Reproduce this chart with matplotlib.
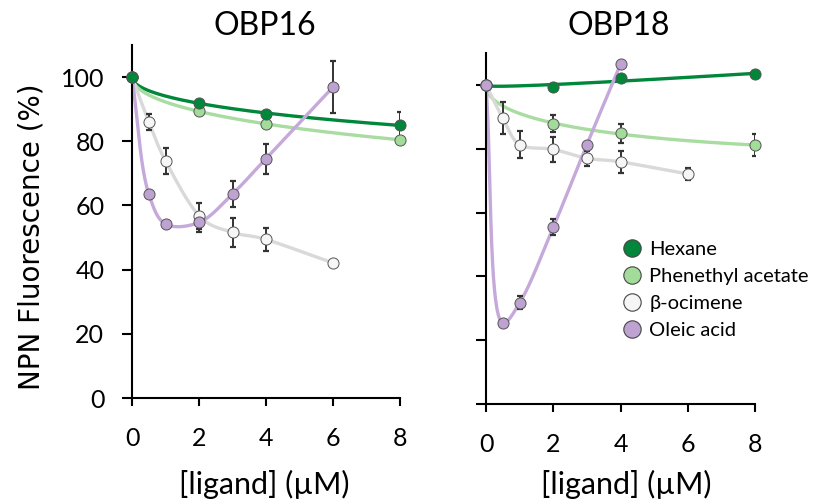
import numpy as np
import matplotlib.pyplot as plt
from matplotlib.lines import Line2D

plt.rcParams['font.family'] = ['Lato', 'DejaVu Sans']

# ---- data ----
conc_hex = [0, 2, 4, 8]
conc_lig = [0, 0.5, 1, 2, 3, 4, 6]
conc_ole18 = [0, 0.5, 1, 2, 3, 4]

# OBP16
hex16 = [100, 92.0, 88.6, 85.0]
hex16_err = [0, 0, 0, 4.0]
phe16 = [100, 89.4, 85.3, 80.5]
phe16_err = [0, 0, 0, 0]
oci16 = [100, 86.1, 73.9, 56.8, 51.6, 49.4, 42.1]
oci16_err = [0, 2.5, 4.0, 4.0, 4.5, 3.5, 0]
ole16 = [100, 63.6, 54.2, 54.7, 63.6, 74.6, 96.9]
ole16_err = [0, 0, 0, 3.0, 4.0, 4.7, 8.0]

# OBP18
hex18 = [100, 99.2, 102.3, 103.3]
hex18_err = [0, 0, 0, 0]
phe18 = [100, 87.9, 84.8, 81.1]
phe18_err = [0, 2.7, 3.0, 3.4]
oci18 = [100, 89.6, 81.3, 79.8, 77.0, 75.9, 72.1]
oci18_err = [0, 5.0, 4.3, 4.0, 2.4, 3.5, 2.0]
ole18 = [100, 25.4, 31.7, 55.4, 81.3, 106.5]
ole18_err = [0, 0, 2.0, 2.5, 0, 0]

names = ['Hexane', 'Phenethyl acetate', 'β-ocimene', 'Oleic acid']
face = ['#00873a', '#a3db9b', '#f6f6f6', '#bda2d2']
linec = ['#00873a', '#a8dca0', '#d9d9d9', '#c4a9da']

SX, SY = 33.5, 3.2  # px per unit, used for smoothing in screen space


def smooth(x, y, alpha=0.5, n=40):
    # catmull-rom through the points (screen space); alpha 0 = uniform, 0.5 = centripetal
    P = np.column_stack([np.asarray(x, float) * SX, np.asarray(y, float) * SY])
    P = np.vstack([2 * P[0] - P[1], P, 2 * P[-1] - P[-2]])
    out = []
    for i in range(len(P) - 3):
        p0, p1, p2, p3 = P[i:i + 4]
        t0 = 0.0
        t1 = t0 + np.linalg.norm(p1 - p0) ** alpha
        t2 = t1 + np.linalg.norm(p2 - p1) ** alpha
        t3 = t2 + np.linalg.norm(p3 - p2) ** alpha
        t = np.linspace(t1, t2, n)[:, None]
        a1 = (t1 - t) / (t1 - t0) * p0 + (t - t0) / (t1 - t0) * p1
        a2 = (t2 - t) / (t2 - t1) * p1 + (t - t1) / (t2 - t1) * p2
        a3 = (t3 - t) / (t3 - t2) * p2 + (t - t2) / (t3 - t2) * p3
        b1 = (t2 - t) / (t2 - t0) * a1 + (t - t0) / (t2 - t0) * a2
        b2 = (t3 - t) / (t3 - t1) * a2 + (t - t1) / (t3 - t1) * a3
        c = (t2 - t) / (t2 - t1) * b1 + (t - t1) / (t2 - t1) * b2
        out.append(c)
    c = np.vstack(out)
    return c[:, 0] / SX, c[:, 1] / SY


def trend(x, y):
    # quadratic fit in sqrt(x)
    s = np.sqrt(np.asarray(x, float))
    k = np.polyfit(s, y, 2)
    xx = np.linspace(0, max(x), 200)
    return xx, np.polyval(k, np.sqrt(xx))


def panel(ax, series, order):
    for i, (x, y, e, kind) in enumerate(series):
        if kind == 'fit':
            xx, yy = trend(x, y)
        elif kind == 'cr0':
            xx, yy = smooth(x, y, alpha=0.0)
        else:
            xx, yy = smooth(x, y, alpha=0.5)
        ax.plot(xx, yy, color=linec[i], lw=2.4, zorder=2 + i * 0.01, solid_capstyle='round')
    for i, (x, y, e, kind) in enumerate(series):
        ax.errorbar(x, y, yerr=e, fmt='none', ecolor='#333333', elinewidth=1.4,
                    capsize=2.5, capthick=1.6, zorder=3)
    for k, i in enumerate(order):
        x, y, e, kind = series[i]
        ax.plot(x, y, 'o', ms=8, mfc=face[i], mec='#555555', mew=0.7,
                zorder=4 + k * 0.1, clip_on=False)
    ax.set_xlim(0, 8)
    ax.set_ylim(0, 110)
    ax.set_xticks([0, 2, 4, 6, 8])
    ax.set_yticks([0, 20, 40, 60, 80, 100])
    for s in ['top', 'right']:
        ax.spines[s].set_visible(False)
    for s in ['left', 'bottom']:
        ax.spines[s].set_linewidth(1.5)
    ax.tick_params(axis='y', direction='out', length=7, width=1.5, labelsize=18, pad=13)
    ax.tick_params(axis='x', direction='out', length=6, width=1.5, labelsize=18, pad=15)


fig = plt.figure(figsize=(8.13, 5.04), dpi=100)
ax1 = fig.add_axes([0.1624, 0.2103, 0.3296, 0.7004])
ax2 = fig.add_axes([0.5978, 0.1984, 0.3309, 0.6964])

panel(ax1, [(conc_hex, hex16, hex16_err, 'fit'), (conc_hex, phe16, phe16_err, 'fit'),
            (conc_lig, oci16, oci16_err, 'cr0'), (conc_lig, ole16, ole16_err, 'cr')],
      order=[2, 3, 1, 0])
panel(ax2, [(conc_hex, hex18, hex18_err, 'fit'), (conc_hex, phe18, phe18_err, 'fit'),
            (conc_lig, oci18, oci18_err, 'cr0'), (conc_ole18, ole18, ole18_err, 'cr')],
      order=[2, 1, 0, 3])
ax2.set_yticklabels([])

fig.text(0.3253, 0.93, 'OBP16', ha='center', va='baseline', fontsize=23)
fig.text(0.761, 0.93, 'OBP18', ha='center', va='baseline', fontsize=23)
fig.text(0.325, 0.02, '[ligand] (µM)', ha='center', va='baseline', fontsize=22)
fig.text(0.770, 0.02, '[ligand] (µM)', ha='center', va='baseline', fontsize=22)
fig.text(0.039, 0.53, 'NPN Fluorescence (%)', rotation=90, ha='center', va='center',
         fontsize=20, family='DejaVu Sans')

handles = [Line2D([], [], ls='none', marker='o', ms=12.5, mfc=face[i], mec='#444444', mew=0.8)
           for i in range(4)]
ax2.legend(handles, names, loc='upper left', bbox_to_anchor=(624 / 813, 1 - 241 / 504),
           bbox_transform=fig.transFigure, frameon=False, fontsize=14.5,
           handlelength=0.8, handletextpad=0.45, labelspacing=0.49, borderpad=0, borderaxespad=0)

fig.savefig('out.png', dpi=100)
